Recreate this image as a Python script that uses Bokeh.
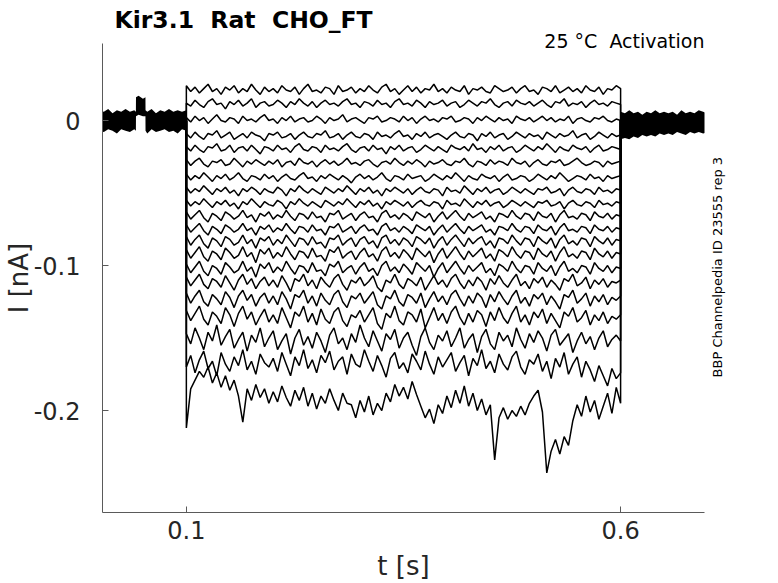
import numpy as np
from bokeh.plotting import figure
from bokeh.layouts import row
from bokeh.models import Range1d, FixedTicker, Label, Title
from bokeh.embed import file_html
from bokeh.resources import INLINE

# ---------------- data ----------------
T_ON = 0.1      # step onset [s]
T_OFF = 0.6     # step offset [s]

X_TICKS = [0.1, 0.6]
X_TICK_LABELS = ["0.1", "0.6"]
Y_TICKS = [0, -0.1, -0.2]
Y_TICK_LABELS = ["0", "-0.1", "-0.2"]

# current during the step, pA, sampled evenly from T_ON to T_OFF
TRACE_01 = [24, 20, 23, 19, 22, 25, 20, 22, 18, 23, 21, 24, 19, 22, 20, 25, 21, 18, 23, 20,
            22, 19, 24, 21, 20, 23, 18, 22, 25, 20, 21, 19, 23, 22, 18, 24, 20, 21, 23, 19,
            22, 20, 24, 21, 19, 23, 25, 20, 22, 18, 21, 24, 20, 23, 19, 22, 21, 25, 20, 22,
            19, 23, 21, 20, 24, 18, 22, 21, 23, 20, 19, 24, 22, 20, 21, 23, 19, 22, 24, 20,
            21, 18, 23, 22, 20, 24, 19, 21, 23, 20, 22, 19, 24, 21, 20, 23, 18, 22, 21, 24, 22]
TRACE_02 = [12, 10, 14, 11, 9, 13, 15, 11, 12, 8, 13, 11, 14, 10, 12, 15, 9, 12, 13, 10,
            11, 14, 12, 9, 13, 11, 15, 12, 10, 13, 9, 12, 14, 11, 12, 10, 13, 15, 11, 12,
            9, 13, 12, 10, 14, 11, 12, 9, 13, 15, 11, 12, 10, 14, 12, 9, 13, 11, 12, 14,
            10, 12, 13, 9, 11, 14, 12, 10, 13, 12, 15, 11, 9, 12, 13, 10, 14, 12, 11, 13,
            10, 12, 14, 11, 9, 13, 12, 15, 10, 12, 11, 13, 9, 12, 14, 11, 12, 10, 13, 12, 11]
TRACE_03 = [2, -1, 3, 0, 2, -2, 1, 4, 0, -1, 2, 1, -2, 3, 0, 1, -1, 2, 4, 0,
            1, -2, 2, 0, 3, -1, 1, 2, -1, 0, 3, 1, -2, 2, 0, 1, 4, -1, 1, 2,
            0, -2, 2, 1, 3, -1, 0, 2, 1, -1, 3, 0, 2, -2, 1, 3, 0, 1, -1, 2,
            1, 3, -1, 0, 2, 1, -2, 2, 0, 3, 1, -1, 2, 0, 1, -2, 3, 1, 0, 2,
            -1, 1, 3, 0, 2, -1, 1, 0, 3, -2, 1, 2, 0, -1, 2, 1, 3, 0, -1, 1, 0]
TRACE_04 = [-9, -12, -8, -11, -13, -9, -10, -7, -12, -10, -8, -13, -11, -9, -12, -8, -10, -11, -14, -9,
            -10, -8, -12, -11, -9, -13, -10, -8, -11, -12, -9, -10, -7, -12, -11, -9, -13, -10, -8, -11,
            -12, -9, -10, -13, -8, -11, -10, -12, -9, -7, -11, -10, -13, -9, -11, -8, -12, -10, -9, -11,
            -13, -10, -8, -11, -12, -9, -10, -14, -9, -11, -8, -12, -10, -9, -13, -11, -8, -10, -12, -9,
            -11, -10, -13, -8, -10, -12, -9, -11, -10, -7, -12, -10, -9, -13, -11, -8, -10, -12, -9, -11, -10]
TRACE_05 = [-18, -21, -17, -20, -22, -18, -19, -16, -21, -20, -17, -22, -19, -18, -21, -17, -20, -23, -18, -19,
            -21, -17, -20, -19, -22, -18, -16, -20, -21, -18, -19, -22, -17, -20, -19, -21, -18, -16, -20, -22,
            -19, -18, -21, -17, -20, -19, -23, -18, -20, -17, -21, -19, -18, -22, -20, -17, -19, -21, -18, -20,
            -22, -17, -19, -20, -18, -21, -16, -20, -19, -22, -18, -20, -17, -21, -19, -18, -22, -20, -17, -19,
            -21, -18, -20, -16, -19, -22, -18, -20, -21, -17, -19, -20, -18, -22, -19, -17, -21, -20, -18, -19, -20]
TRACE_06 = [-27, -31, -28, -26, -30, -32, -28, -29, -27, -31, -30, -26, -29, -32, -28, -30, -27, -29, -31, -28,
            -30, -27, -32, -29, -28, -31, -26, -29, -30, -28, -32, -29, -27, -30, -28, -31, -29, -26, -30, -29,
            -31, -28, -27, -30, -32, -29, -28, -30, -26, -29, -31, -28, -30, -27, -29, -32, -28, -30, -29, -27,
            -30, -31, -28, -29, -26, -30, -32, -28, -29, -31, -27, -30, -28, -29, -31, -26, -29, -30, -28, -32,
            -29, -27, -30, -31, -28, -29, -27, -31, -30, -28, -26, -29, -31, -30, -28, -29, -32, -28, -30, -29, -28]
TRACE_07 = [-37, -41, -38, -40, -36, -39, -42, -38, -40, -37, -41, -39, -36, -40, -42, -38, -39, -41, -37, -40,
            -38, -42, -39, -37, -40, -41, -38, -36, -40, -39, -42, -38, -40, -37, -39, -41, -38, -40, -43, -39,
            -37, -40, -38, -41, -39, -36, -40, -42, -38, -39, -41, -37, -40, -39, -38, -42, -40, -37, -39, -41,
            -38, -40, -36, -39, -42, -38, -40, -41, -37, -39, -40, -38, -42, -39, -37, -41, -40, -38, -39, -42,
            -40, -37, -39, -41, -38, -40, -36, -39, -42, -40, -38, -39, -41, -37, -40, -39, -42, -38, -40, -39, -38]
TRACE_08 = [-46, -50, -47, -49, -45, -48, -51, -47, -49, -46, -50, -48, -52, -47, -49, -46, -48, -51, -47, -49,
            -50, -46, -48, -52, -47, -49, -45, -48, -50, -47, -49, -51, -46, -48, -50, -47, -49, -45, -48, -51,
            -47, -49, -46, -50, -48, -52, -47, -49, -46, -48, -50, -47, -51, -48, -46, -49, -50, -47, -48, -52,
            -46, -49, -48, -50, -45, -48, -51, -47, -49, -46, -50, -48, -47, -51, -49, -46, -48, -50, -47, -49,
            -51, -47, -48, -46, -50, -49, -47, -52, -48, -46, -49, -50, -47, -48, -51, -46, -49, -48, -50, -47, -48]
TRACE_09 = [-55, -59, -56, -58, -54, -57, -60, -56, -58, -55, -59, -57, -61, -56, -58, -54, -57, -60, -56, -58,
            -59, -55, -57, -61, -56, -58, -54, -57, -59, -56, -58, -60, -55, -57, -59, -56, -58, -54, -57, -60,
            -56, -58, -55, -59, -57, -61, -56, -58, -55, -57, -59, -56, -60, -57, -55, -58, -59, -56, -57, -61,
            -55, -58, -57, -59, -54, -57, -60, -56, -58, -55, -59, -57, -56, -60, -58, -55, -57, -59, -56, -58,
            -60, -56, -57, -55, -59, -58, -56, -61, -57, -55, -58, -59, -56, -57, -60, -55, -58, -57, -59, -56, -57]
TRACE_10 = [-63, -68, -65, -62, -67, -70, -64, -66, -69, -63, -65, -68, -66, -62, -67, -65, -70, -64, -66, -63,
            -68, -65, -67, -62, -66, -69, -64, -65, -68, -63, -67, -66, -70, -64, -65, -62, -68, -66, -64, -69,
            -65, -63, -67, -66, -70, -64, -62, -67, -65, -68, -64, -66, -69, -63, -65, -67, -64, -70, -66, -63,
            -68, -65, -62, -66, -69, -64, -67, -65, -63, -68, -66, -70, -64, -65, -67, -62, -66, -68, -64, -65,
            -69, -63, -66, -67, -64, -70, -65, -62, -67, -66, -68, -64, -65, -69, -63, -66, -67, -64, -68, -65, -66]
TRACE_11 = [-72, -77, -74, -71, -76, -79, -73, -75, -78, -72, -74, -77, -75, -71, -76, -74, -79, -73, -75, -72,
            -77, -74, -76, -71, -75, -78, -73, -74, -77, -72, -76, -75, -79, -73, -74, -71, -77, -75, -73, -78,
            -74, -72, -76, -75, -79, -73, -71, -76, -74, -77, -73, -75, -78, -72, -74, -76, -73, -79, -75, -72,
            -77, -74, -71, -75, -78, -73, -76, -74, -72, -77, -75, -79, -73, -74, -76, -71, -75, -77, -73, -74,
            -78, -72, -75, -76, -73, -79, -74, -71, -76, -75, -77, -73, -74, -78, -72, -75, -76, -73, -77, -74, -75]
TRACE_12 = [-80, -86, -82, -79, -85, -88, -81, -83, -87, -80, -82, -86, -84, -79, -85, -82, -88, -81, -83, -80,
            -86, -82, -85, -79, -83, -87, -81, -82, -86, -80, -85, -84, -88, -81, -82, -79, -86, -83, -81, -87,
            -82, -80, -85, -83, -88, -81, -79, -85, -82, -86, -81, -83, -87, -80, -82, -85, -81, -88, -83, -80,
            -86, -82, -79, -83, -87, -81, -85, -82, -80, -86, -83, -88, -81, -82, -85, -79, -83, -86, -81, -82,
            -87, -80, -83, -85, -81, -88, -82, -79, -85, -83, -86, -81, -82, -87, -80, -83, -85, -81, -86, -82, -83]
TRACE_13 = [-89, -95, -91, -87, -94, -97, -90, -92, -96, -88, -91, -95, -93, -87, -94, -91, -98, -89, -92, -88,
            -95, -91, -94, -87, -92, -96, -90, -91, -95, -88, -94, -93, -97, -89, -91, -87, -95, -92, -90, -96,
            -91, -88, -94, -92, -97, -90, -87, -94, -91, -95, -89, -92, -96, -88, -91, -94, -90, -98, -92, -88,
            -95, -91, -87, -92, -96, -90, -94, -91, -88, -95, -92, -97, -89, -91, -94, -87, -92, -95, -90, -91,
            -96, -88, -92, -94, -90, -97, -91, -87, -94, -92, -95, -90, -91, -96, -88, -92, -94, -90, -95, -91, -92]
TRACE_14 = [-99, -105, -101, -97, -104, -107, -100, -102, -106, -98, -101, -105, -103, -97, -104, -101, -108, -99, -102, -98,
            -105, -101, -104, -97, -102, -106, -100, -101, -105, -98, -104, -103, -107, -99, -101, -97, -105, -102, -100, -106,
            -101, -98, -104, -102, -107, -100, -97, -104, -101, -105, -99, -102, -106, -98, -101, -104, -100, -108, -102, -98,
            -105, -101, -97, -102, -106, -100, -104, -101, -98, -105, -102, -107, -99, -101, -104, -97, -102, -105, -100, -101,
            -106, -98, -102, -104, -100, -107, -101, -97, -104, -102, -105, -100, -101, -106, -98, -102, -104, -100, -105, -101, -102]
TRACE_15 = [-108, -114, -110, -106, -113, -116, -109, -111, -115, -107, -112, -117, -110, -106, -113, -109, -116, -111, -108, -114,
            -110, -115, -107, -112, -118, -109, -111, -106, -114, -110, -116, -108, -112, -115, -109, -106, -113, -117, -110, -112,
            -108, -114, -111, -107, -115, -118, -110, -112, -106, -113, -116, -109, -111, -114, -108, -117, -112, -107, -113, -110,
            -115, -109, -106, -112, -116, -110, -114, -108, -111, -117, -109, -113, -107, -112, -115, -110, -106, -114, -111, -116,
            -109, -112, -108, -115, -110, -113, -117, -109, -111, -106, -114, -112, -108, -116, -110, -113, -109, -115, -111, -112, -110]
TRACE_16 = [-119, -126, -121, -117, -125, -128, -120, -123, -127, -118, -122, -129, -121, -117, -124, -120, -128, -122, -119, -126,
            -121, -127, -118, -123, -130, -120, -122, -117, -126, -121, -128, -119, -124, -127, -120, -117, -125, -129, -121, -123,
            -119, -126, -122, -118, -127, -130, -121, -123, -117, -125, -128, -120, -122, -126, -119, -129, -123, -118, -125, -121,
            -127, -120, -117, -123, -128, -121, -126, -119, -122, -129, -120, -125, -118, -123, -127, -121, -117, -126, -122, -128,
            -120, -123, -119, -127, -121, -125, -130, -120, -122, -117, -126, -123, -119, -128, -121, -125, -120, -127, -122, -124, -121]
TRACE_17 = [-131, -138, -133, -128, -137, -141, -132, -135, -140, -129, -134, -142, -133, -128, -137, -132, -141, -135, -130, -139,
            -134, -140, -129, -136, -143, -132, -135, -128, -139, -133, -141, -130, -137, -140, -132, -129, -138, -142, -134, -136,
            -131, -139, -134, -129, -140, -144, -133, -136, -128, -138, -141, -132, -134, -139, -130, -143, -136, -129, -138, -133,
            -140, -132, -128, -136, -141, -133, -139, -131, -134, -142, -132, -138, -129, -136, -140, -133, -128, -139, -134, -141,
            -132, -136, -130, -140, -133, -138, -143, -132, -135, -129, -139, -136, -131, -141, -134, -138, -132, -140, -135, -137, -134]
TRACE_18 = [-147, -154, -143, -150, -158, -146, -152, -141, -155, -149, -144, -157, -151, -146, -159, -148, -153, -143, -156, -150,
            -145, -158, -152, -147, -161, -150, -144, -155, -149, -157, -146, -152, -160, -148, -143, -154, -150, -158, -147, -153,
            -141, -150, -156, -145, -152, -159, -147, -151, -144, -157, -150, -146, -155, -162, -149, -143, -153, -158, -148, -152,
            -145, -156, -150, -143, -157, -151, -147, -160, -149, -144, -154, -158, -146, -152, -148, -156, -143, -151, -157, -147,
            -153, -145, -150, -159, -148, -144, -155, -151, -147, -160, -152, -146, -154, -149, -158, -150, -145, -156, -151, -148, -152]
TRACE_19 = [-170, -162, -174, -165, -159, -171, -166, -176, -160, -168, -173, -163, -169, -158, -172, -166, -175, -161, -167, -170,
            -164, -173, -160, -168, -176, -163, -169, -158, -171, -165, -174, -162, -167, -159, -172, -166, -163, -175, -161, -168,
            -170, -158, -166, -173, -162, -169, -177, -164, -160, -171, -167, -174, -161, -166, -172, -159, -168, -175, -163, -170,
            -165, -160, -173, -167, -162, -176, -164, -169, -158, -171, -166, -174, -161, -168, -172, -163, -159, -170, -175, -165,
            -168, -161, -173, -166, -178, -164, -170, -160, -175, -168, -163, -177, -166, -172, -180, -169, -176, -183, -171, -178, -174]
TRACE_20 = [-212, -185, -179, -173, -177, -170, -181, -174, -184, -176, -186, -179, -190, -208, -185, -193, -182, -191, -185, -195,
            -187, -194, -183, -191, -197, -186, -193, -184, -197, -188, -199, -190, -195, -185, -193, -200, -188, -195, -196, -205,
            -193, -201, -190, -203, -195, -200, -188, -194, -182, -190, -184, -192, -180, -189, -197, -205, -199, -209, -196, -202,
            -190, -198, -186, -195, -183, -197, -188, -200, -192, -203, -196, -234, -205, -198, -206, -200, -204, -197, -203, -195,
            -190, -186, -201, -243, -228, -220, -230, -218, -224, -207, -196, -204, -190, -201, -193, -206, -197, -188, -202, -184, -195]

TRACES_PA = [TRACE_01, TRACE_02, TRACE_03, TRACE_04, TRACE_05, TRACE_06, TRACE_07,
             TRACE_08, TRACE_09, TRACE_10, TRACE_11, TRACE_12, TRACE_13, TRACE_14,
             TRACE_15, TRACE_16, TRACE_17, TRACE_18, TRACE_19, TRACE_20]

# holding-level noise band shared by all sweeps (pA): before and after the step
PRE_T = [0.000, 0.005, 0.010, 0.015, 0.020, 0.025, 0.030, 0.035, 0.040, 0.0419, 0.042, 0.045,
         0.050, 0.0529, 0.053, 0.055, 0.060, 0.065, 0.070, 0.075, 0.080, 0.085, 0.090, 0.095, 0.100]
PRE_HI = [7, 6, 8, 5, 7, 6, 8, 6, 7, 6, 16, 17, 15, 16, 7, 6, 8, 5, 7, 6, 8, 6, 7, 6, 7]
PRE_LO = [-7, -8, -6, -7, -9, -6, -7, -8, -6, -7, 3, 4, 3, 3, -7, -9, -6, -8, -7, -6, -8, -7, -9, -6, -7]
POST_T = [0.600, 0.605, 0.610, 0.615, 0.620, 0.625, 0.630, 0.635, 0.640, 0.645, 0.650,
          0.655, 0.660, 0.665, 0.670, 0.675, 0.680, 0.685, 0.690, 0.695, 0.700]
POST_HI = [6, 5, 7, 5, 6, 4, 6, 5, 7, 5, 6, 5, 6, 4, 7, 5, 6, 5, 7, 6, 5]
POST_LO = [-13, -12, -13, -11, -12, -10, -11, -10, -11, -9, -10, -9, -10, -8, -9, -10, -8, -9, -8, -9, -8]

TITLE = "Kir3.1\u00a0 Rat\u00a0 CHO_FT"
SUBTITLE = "25 \u00b0C\u00a0 Activation"
SIDE_NOTE = "BBP Channelpedia ID 23555 rep 3"
X_LABEL = "t [s]"
Y_LABEL = "I [nA]"

# ---------------- layout ----------------
W_MAIN, W_SIDE, H = 710, 68, 583
FL, FT, FW, FH = 101, 43, 603, 469
X0, X1 = 0.00345, 0.6966
Y0, Y1 = -0.2703, 0.0531

FONT = "DejaVu Sans"
INK = "#262626"
AX = "#5a5a5a"

p = figure(width=W_MAIN, height=H, output_backend="svg", toolbar_location=None,
           title_location=None,
           x_range=Range1d(X0, X1), y_range=Range1d(Y0, Y1),
           min_border_left=FL, min_border_top=FT,
           min_border_right=W_MAIN - FL - FW, min_border_bottom=H - FT - FH)
p.outline_line_color = None
p.xgrid.visible = False
p.ygrid.visible = False
p.background_fill_color = "white"
p.border_fill_color = "white"

# subtitle (nearest the frame, overlapping its top edge) then the bold title above it
p.add_layout(Title(text=SUBTITLE, align="right", offset=0, standoff=-17,
                   vertical_align="bottom", text_font=FONT, text_font_size="19px",
                   text_font_style="normal", text_color="black"), "above")
p.add_layout(Title(text=TITLE, align="left", offset=12, standoff=6,
                   vertical_align="bottom", text_font=FONT, text_font_size="23.5px",
                   text_font_style="bold", text_color="black"), "above")

to_nA = 1e-3
p.varea(x=PRE_T, y1=list(np.array(PRE_LO) * to_nA), y2=list(np.array(PRE_HI) * to_nA),
        fill_color="black")
p.varea(x=POST_T, y1=list(np.array(POST_LO) * to_nA), y2=list(np.array(POST_HI) * to_nA),
        fill_color="black")

xs, ys = [], []
for tr in TRACES_PA:
    t = np.linspace(T_ON, T_OFF, len(tr))
    xs.append([T_ON] + list(t) + [T_OFF])
    ys.append([0.0] + list(np.array(tr) * to_nA) + [0.0])
p.multi_line(xs=xs, ys=ys, line_color="black", line_width=1.5)

for ax in (p.xaxis, p.yaxis):
    ax.axis_line_color = AX
    ax.major_tick_line_color = AX
    ax.minor_tick_line_color = None
    ax.major_tick_in = 6
    ax.major_tick_out = 0
    ax.major_label_text_font = FONT
    ax.major_label_text_font_size = "24px"
    ax.major_label_text_color = INK
    ax.axis_label_text_font = FONT
    ax.axis_label_text_font_size = "26px"
    ax.axis_label_text_font_style = "normal"
    ax.axis_label_text_color = INK

p.xaxis.ticker = FixedTicker(ticks=X_TICKS)
p.xaxis.major_label_overrides = dict(zip(X_TICKS, X_TICK_LABELS))
p.xaxis.major_label_standoff = 8
p.xaxis.axis_label = X_LABEL
p.xaxis.axis_label_standoff = 9

p.yaxis.ticker = FixedTicker(ticks=Y_TICKS)
p.yaxis.major_label_overrides = dict(zip(Y_TICKS, Y_TICK_LABELS))
p.yaxis.major_label_standoff = 22
p.yaxis.axis_label = Y_LABEL
p.yaxis.axis_label_standoff = -3

# narrow strip on the right holding the rotated provenance note
side = figure(width=W_SIDE, height=H, output_backend="svg", toolbar_location=None,
              title_location=None, x_range=Range1d(0, W_SIDE), y_range=Range1d(0, H),
              x_axis_type=None, y_axis_type=None,
              min_border_left=0, min_border_right=0, min_border_top=0, min_border_bottom=0)
side.outline_line_color = None
side.xgrid.visible = False
side.ygrid.visible = False
side.background_fill_color = "white"
side.border_fill_color = "white"
side.add_layout(Label(x=7, y=H - 278, text=SIDE_NOTE, angle=np.pi / 2, text_font=FONT,
                      text_font_size="13px", text_color="black", text_align="center",
                      text_baseline="alphabetic"))

layout = row(p, side)
open("out.html", "w").write(file_html(layout, INLINE))
